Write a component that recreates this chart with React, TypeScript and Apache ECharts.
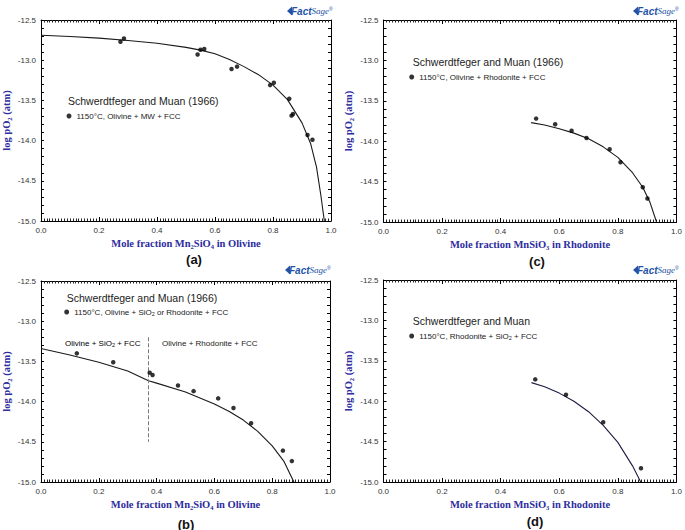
import React, { useEffect, useRef } from "react";
import * as echarts from "echarts";

// ---------- data ----------
const X_MIN = 0;
const X_MAX = 1;
const X_STEP = 0.2;
const Y_MIN = -15;
const Y_MAX = -12.5;
const Y_TICK_STEP = 0.1;
const Y_LABEL_STEP = 0.5;

const aPoints = [
  [0.274, -12.77], [0.286, -12.73], [0.54, -12.93], [0.55, -12.87], [0.563, -12.86],
  [0.657, -13.11], [0.676, -13.08], [0.79, -13.31], [0.803, -13.28], [0.856, -13.48],
  [0.864, -13.69], [0.869, -13.67], [0.919, -13.93], [0.936, -13.99],
];
const aCurve = [
  [0, -12.69], [0.1, -12.705], [0.2, -12.725], [0.3, -12.755], [0.4, -12.79], [0.5, -12.84],
  [0.55, -12.875], [0.6, -12.92], [0.65, -12.99], [0.7, -13.08], [0.75, -13.18], [0.8, -13.31],
  [0.85, -13.49], [0.9, -13.78], [0.93, -14.04], [0.95, -14.33], [0.965, -14.68], [0.977, -15.0],
];

const bPoints = [
  [0.124, -13.4], [0.25, -13.51], [0.376, -13.64], [0.386, -13.67], [0.474, -13.8],
  [0.528, -13.87], [0.613, -13.96], [0.666, -14.08], [0.727, -14.27], [0.837, -14.61], [0.868, -14.74],
];
const bCurve = [
  [0, -13.34], [0.1, -13.42], [0.2, -13.51], [0.3, -13.62], [0.372, -13.74], [0.4, -13.77],
  [0.5, -13.88], [0.6, -14.03], [0.65, -14.12], [0.7, -14.23], [0.75, -14.37], [0.8, -14.55],
  [0.84, -14.74], [0.875, -15.0],
];
const bDivider = [[0.372, -13.2], [0.372, -14.5]];

const cPoints = [
  [0.521, -13.72], [0.586, -13.79], [0.642, -13.87], [0.693, -13.96],
  [0.772, -14.1], [0.809, -14.26], [0.885, -14.57], [0.901, -14.71],
];
const cCurve = [
  [0.504, -13.77], [0.55, -13.8], [0.6, -13.845], [0.65, -13.9], [0.7, -13.97], [0.75, -14.07],
  [0.8, -14.2], [0.85, -14.39], [0.885, -14.57], [0.91, -14.76], [0.932, -15.0],
];

const dPoints = [[0.518, -13.73], [0.623, -13.92], [0.75, -14.26], [0.879, -14.83]];
const dCurve = [
  [0.505, -13.77], [0.55, -13.82], [0.6, -13.9], [0.65, -14.0], [0.7, -14.13],
  [0.75, -14.3], [0.8, -14.51], [0.85, -14.8], [0.878, -15.0],
];

const sourceTitles = ["Schwerdtfeger and Muan (1966)", "Schwerdtfeger and Muan (1966)", "Schwerdtfeger and Muan (1966)", "Schwerdtfeger and Muan"];
const seriesNames = [
  "1150°C, Olivine + MW + FCC",
  "1150°C, Olivine + SiO2 or Rhodonite + FCC",
  "1150°C, Olivine + Rhodonite + FCC",
  "1150°C, Rhodonite + SiO2 + FCC",
];
const panelLabels = ["(a)", "(b)", "(c)", "(d)"];

// ---------- styles ----------
const SANS = "'Liberation Sans', Arial, Helvetica, sans-serif";
const SERIF = "'Liberation Serif', 'Times New Roman', serif";
const BLUE = "#2d2d9e";

const titleRich = {
  t: { fontFamily: SERIF, fontWeight: "bold", fontSize: 10.5, color: BLUE, lineHeight: 13 },
  s: { fontFamily: SERIF, fontWeight: "bold", fontSize: 6.5, color: BLUE, lineHeight: 8, verticalAlign: "bottom" },
};
const smallRich = {
  t: { fontFamily: SANS, fontSize: 8, color: "#222", lineHeight: 10 },
  s: { fontFamily: SANS, fontSize: 5.5, color: "#222", lineHeight: 6, verticalAlign: "bottom" },
};
const subFmt = (s: string) =>
  s
    .split(/(SiO2|SiO4|SiO3|Mn2)/)
    .filter((p) => p.length)
    .map((p) => {
      if (p === "SiO2") return "{t|SiO}{s|2}";
      if (p === "SiO3") return "{t|SiO}{s|3}";
      if (p === "SiO4") return "{t|SiO}{s|4}";
      if (p === "Mn2") return "{t|Mn}{s|2}";
      return `{t|${p}}`;
    })
    .join("");

const panels = [
  {
    grid: { left: 40, top: 20, width: 291, height: 201 },
    points: aPoints, curve: aCurve, curveColor: "#1a1a1a",
    xName: "Mole fraction Mn2SiO4 in Olivine",
    titlePos: [68, 95], legendPos: [66.5, 112], labelPos: [194, 259], logoPos: [287, 11], yGap: 28,
  },
  {
    grid: { left: 37, top: 281, width: 293, height: 201 },
    points: bPoints, curve: bCurve, curveColor: "#1a1a1a",
    xName: "Mole fraction Mn2SiO4 in Olivine",
    titlePos: [66.7, 292], legendPos: [64.2, 308], labelPos: [186, 524], logoPos: [285, 270], yGap: 28,
  },
  {
    grid: { left: 383.5, top: 20, width: 294, height: 202 },
    points: cPoints, curve: cCurve, curveColor: "#1a1a1a",
    xName: "Mole fraction MnSiO3 in Rhodonite",
    titlePos: [412.7, 56], legendPos: [409.2, 73], labelPos: [537, 261], logoPos: [633, 11], yGap: 29,
  },
  {
    grid: { left: 383.5, top: 280, width: 294, height: 202 },
    points: dPoints, curve: dCurve, curveColor: "#1c1c44",
    xName: "Mole fraction MnSiO3 in Rhodonite",
    titlePos: [412.7, 315], legendPos: [409.2, 332], labelPos: [535, 521], logoPos: [633, 270], yGap: 29,
  },
];
const panelOrder = [0, 1, 2, 3];

function App() {
  const ref = useRef<HTMLDivElement>(null);

  useEffect(() => {
    if (!ref.current) return;
    const chart = echarts.init(ref.current, null, { renderer: "svg" });

    const grids: any[] = [];
    const xAxes: any[] = [];
    const yAxes: any[] = [];
    const series: any[] = [];
    const titles: any[] = [];
    const legends: any[] = [];
    const graphics: any[] = [];

    const mkTick = (len: number) => ({ show: true, inside: true, length: len, lineStyle: { color: "#000", width: 1 } });
    const mkMinor = (n: number, len: number) => ({ show: true, splitNumber: n, length: len, lineStyle: { color: "#222", width: 1 } });
    const line = () => ({ show: true, onZero: false, lineStyle: { color: "#000", width: 1 } });
    const yLabelFmt = (v: number) => {
      const r = v / Y_LABEL_STEP;
      return Math.abs(r - Math.round(r)) < 1e-6 ? v.toFixed(1) : "";
    };

    panelOrder.forEach((i) => {
      const p = panels[i];
      grids.push({ left: p.grid.left, top: p.grid.top, width: p.grid.width, height: p.grid.height });

      xAxes.push({
        type: "value", gridIndex: i, min: X_MIN, max: X_MAX, interval: X_STEP, position: "bottom",
        axisLine: line(), axisTick: mkTick(4), minorTick: mkMinor(20, 2.5), splitLine: { show: false },
        axisLabel: { fontSize: 8, color: "#333", fontFamily: SANS, margin: 5, formatter: (v: number) => v.toFixed(1) },
        name: subFmt(p.xName), nameLocation: "middle", nameGap: 16,
        nameTextStyle: { rich: titleRich },
      });
      xAxes.push({
        type: "value", gridIndex: i, min: X_MIN, max: X_MAX, interval: X_STEP, position: "top",
        axisLine: line(), axisTick: mkTick(4), minorTick: mkMinor(20, 2.5), splitLine: { show: false },
        axisLabel: { show: false },
      });
      yAxes.push({
        type: "value", gridIndex: i, min: Y_MIN, max: Y_MAX, interval: Y_TICK_STEP, position: "left",
        axisLine: line(), axisTick: mkTick(3), splitLine: { show: false },
        axisLabel: { fontSize: 8, color: "#333", fontFamily: SANS, margin: 5, formatter: yLabelFmt },
        name: "{t|log pO}{s|2}{t| (atm)}", nameLocation: "middle", nameGap: p.yGap,
        nameTextStyle: { rich: titleRich },
      });
      yAxes.push({
        type: "value", gridIndex: i, min: Y_MIN, max: Y_MAX, interval: Y_TICK_STEP, position: "right",
        axisLine: line(), axisTick: mkTick(3), splitLine: { show: false },
        axisLabel: { show: false },
      });

      const ax = 2 * i;
      const ay = 2 * i;
      series.push({
        type: "line", name: "curve" + i, xAxisIndex: ax, yAxisIndex: ay, data: p.curve,
        showSymbol: false, symbol: "none", smooth: false,
        lineStyle: { color: p.curveColor, width: 1.1 }, clip: true, silent: true, z: 2,
      });
      series.push({
        type: "scatter", name: seriesNames[i], xAxisIndex: ax, yAxisIndex: ay, data: p.points,
        symbol: "circle", symbolSize: 4.5, itemStyle: { color: "#000" }, z: 3,
      });
      if (i === 1) {
        series.push({
          type: "line", name: "divider", xAxisIndex: ax, yAxisIndex: ay, data: bDivider,
          showSymbol: false, symbol: "none", lineStyle: { color: "#7a7a7a", width: 1, type: [4, 2] }, silent: true,
        });
      }

      titles.push({
        text: sourceTitles[i], left: p.titlePos[0], top: p.titlePos[1], padding: 0,
        textStyle: { fontFamily: SANS, fontWeight: "normal", fontSize: 10.5, color: "#222" },
      });
      legends.push({
        data: [seriesNames[i]], left: p.legendPos[0], top: p.legendPos[1], padding: 0,
        icon: "circle", itemWidth: 5, itemHeight: 5, selectedMode: false,
        formatter: (n: string) => subFmt(n),
        textStyle: { rich: smallRich, fontSize: 8 },
      });
      graphics.push({
        type: "text", x: p.labelPos[0], y: p.labelPos[1],
        style: { text: panelLabels[i], font: `bold 13px ${SANS}`, fill: "#111", textAlign: "center", textVerticalAlign: "middle" },
      });
      graphics.push({
        type: "group", x: p.logoPos[0], y: p.logoPos[1],
        children: [
          { type: "polygon", shape: { points: [[0, 0], [5, -4.5], [5, 4.5]] }, style: { fill: "#2453a6" } },
          {
            type: "text", x: 4, y: 0,
            style: {
              text: "{f|Fact}{g|Sage}{r|®}", textVerticalAlign: "middle",
              rich: {
                f: { fontFamily: SANS, fontWeight: "bold", fontSize: 10, fill: "#2453a6", fontStyle: "italic" },
                g: { fontFamily: SERIF, fontStyle: "italic", fontSize: 9, fill: "#2453a6" },
                r: { fontFamily: SANS, fontSize: 5, fill: "#2453a6", verticalAlign: "top" },
              },
            },
          },
        ],
      });
    });

    graphics.push({
      type: "text", x: 65, y: 343,
      style: { text: subFmt("Olivine + SiO2 + FCC"), rich: smallRich, textVerticalAlign: "middle" },
    });
    graphics.push({
      type: "text", x: 162, y: 343,
      style: { text: "Olivine + Rhodonite + FCC", font: `8px ${SANS}`, fill: "#222", textVerticalAlign: "middle" },
    });

    chart.setOption({
      animation: false,
      backgroundColor: "#fff",
      grid: grids,
      xAxis: xAxes,
      yAxis: yAxes,
      title: titles,
      legend: legends,
      series,
      graphic: graphics,
    });
    return () => chart.dispose();
  }, []);

  return <div ref={ref} style={{ position: "absolute", left: 0, top: 0, width: 685, height: 530 }} />;
}

export default App;
